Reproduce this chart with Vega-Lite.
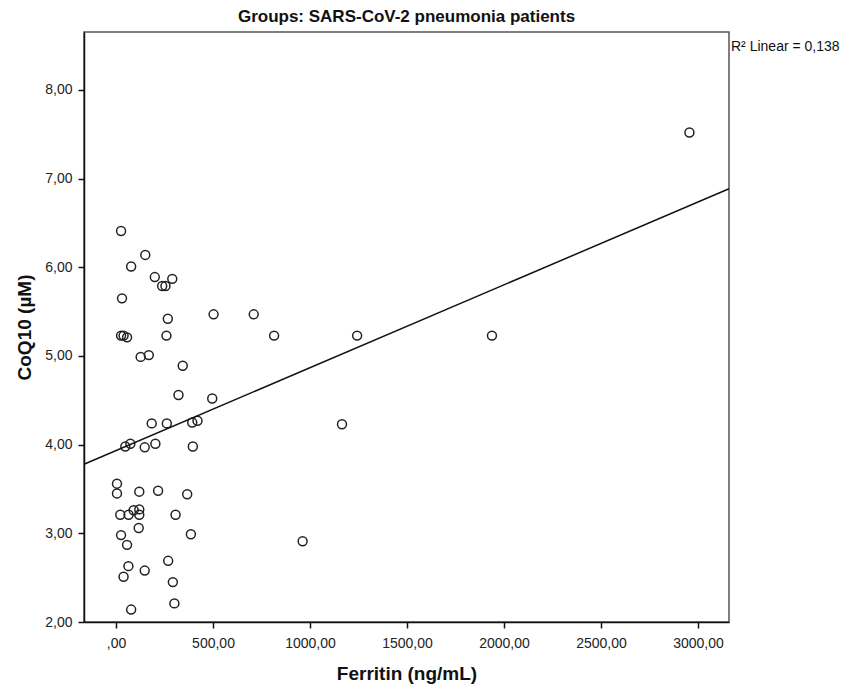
{
  "$schema": "https://vega.github.io/schema/vega-lite/v6.json",
  "width": 645,
  "height": 590,
  "autosize": "none",
  "padding": {"left": 84, "top": 32, "right": 119, "bottom": 66},
  "background": "white",
  "config": {
    "view": {"stroke": "#555555", "strokeWidth": 1.5},
    "axis": {
      "domainColor": "#111111",
      "domainWidth": 1.5,
      "tickColor": "#111111",
      "tickWidth": 1.5,
      "tickSize": 6,
      "grid": false,
      "labelFont": "Liberation Sans",
      "labelFontSize": 14,
      "labelColor": "#222222",
      "titleFont": "Liberation Sans",
      "titleFontWeight": "bold",
      "titleFontSize": 19,
      "titleColor": "#111111"
    }
  },
  "title": {
    "text": "Groups: SARS-CoV-2 pneumonia patients",
    "font": "Liberation Sans",
    "fontSize": 17,
    "fontWeight": "bold",
    "color": "#111111",
    "anchor": "middle",
    "offset": 6
  },
  "data": {
    "values": [
      {"ferritin": 26, "coq10": 6.41},
      {"ferritin": 151, "coq10": 6.14},
      {"ferritin": 78, "coq10": 6.01},
      {"ferritin": 200, "coq10": 5.89},
      {"ferritin": 290, "coq10": 5.87},
      {"ferritin": 238, "coq10": 5.79},
      {"ferritin": 255, "coq10": 5.79},
      {"ferritin": 31, "coq10": 5.65},
      {"ferritin": 267, "coq10": 5.42},
      {"ferritin": 503, "coq10": 5.47},
      {"ferritin": 710, "coq10": 5.47},
      {"ferritin": 815, "coq10": 5.23},
      {"ferritin": 26, "coq10": 5.23},
      {"ferritin": 39, "coq10": 5.23},
      {"ferritin": 57, "coq10": 5.21},
      {"ferritin": 260, "coq10": 5.23},
      {"ferritin": 127, "coq10": 4.99},
      {"ferritin": 169, "coq10": 5.01},
      {"ferritin": 344, "coq10": 4.89},
      {"ferritin": 322, "coq10": 4.56},
      {"ferritin": 496, "coq10": 4.52},
      {"ferritin": 184, "coq10": 4.24},
      {"ferritin": 262, "coq10": 4.24},
      {"ferritin": 393, "coq10": 4.25},
      {"ferritin": 420, "coq10": 4.27},
      {"ferritin": 1165, "coq10": 4.23},
      {"ferritin": 48, "coq10": 3.98},
      {"ferritin": 74, "coq10": 4.01},
      {"ferritin": 148, "coq10": 3.97},
      {"ferritin": 203, "coq10": 4.01},
      {"ferritin": 396, "coq10": 3.98},
      {"ferritin": 5, "coq10": 3.56},
      {"ferritin": 5, "coq10": 3.45},
      {"ferritin": 120, "coq10": 3.47},
      {"ferritin": 217, "coq10": 3.48},
      {"ferritin": 367, "coq10": 3.44},
      {"ferritin": 22, "coq10": 3.21},
      {"ferritin": 65, "coq10": 3.21},
      {"ferritin": 91, "coq10": 3.26},
      {"ferritin": 120, "coq10": 3.27},
      {"ferritin": 120, "coq10": 3.21},
      {"ferritin": 307, "coq10": 3.21},
      {"ferritin": 117, "coq10": 3.06},
      {"ferritin": 26, "coq10": 2.98},
      {"ferritin": 386, "coq10": 2.99},
      {"ferritin": 57, "coq10": 2.87},
      {"ferritin": 962, "coq10": 2.91},
      {"ferritin": 64, "coq10": 2.63},
      {"ferritin": 39, "coq10": 2.51},
      {"ferritin": 148, "coq10": 2.58},
      {"ferritin": 269, "coq10": 2.69},
      {"ferritin": 293, "coq10": 2.45},
      {"ferritin": 301, "coq10": 2.21},
      {"ferritin": 78, "coq10": 2.14},
      {"ferritin": 1243, "coq10": 5.23},
      {"ferritin": 1938, "coq10": 5.23},
      {"ferritin": 2956, "coq10": 7.52}
    ]
  },
  "layer": [
    {
      "mark": {"type": "point", "shape": "circle", "filled": false, "size": 80, "strokeWidth": 1.5, "color": "#222222", "opacity": 1},
      "encoding": {
        "x": {
          "field": "ferritin",
          "type": "quantitative",
          "title": "Ferritin (ng/mL)",
          "scale": {"domain": [-165, 3160], "nice": false, "zero": false},
          "axis": {
            "values": [0, 500, 1000, 1500, 2000, 2500, 3000],
            "labelPadding": 8,
            "titlePadding": 14,
            "labelExpr": "datum.value == 0 ? ',00' : replace(format(datum.value, '.2f'), '.', ',')"
          }
        },
        "y": {
          "field": "coq10",
          "type": "quantitative",
          "title": "CoQ10 (µM)",
          "scale": {"domain": [2, 8.654], "nice": false, "zero": false},
          "axis": {
            "values": [2, 3, 4, 5, 6, 7, 8],
            "labelPadding": 6,
            "titlePadding": 10,
            "labelExpr": "replace(format(datum.value, '.2f'), '.', ',')"
          }
        }
      }
    },
    {
      "transform": [{"regression": "coq10", "on": "ferritin", "extent": [-165, 3160]}],
      "mark": {"type": "line", "color": "#111111", "strokeWidth": 1.5},
      "encoding": {
        "x": {"field": "ferritin", "type": "quantitative"},
        "y": {"field": "coq10", "type": "quantitative"}
      }
    },
    {
      "data": {"values": [{"label": "R² Linear = 0,138"}]},
      "mark": {"type": "text", "align": "left", "baseline": "alphabetic", "dx": 2, "font": "Liberation Sans", "fontSize": 14, "color": "#111111", "clip": false},
      "encoding": {
        "x": {"datum": 3160},
        "y": {"datum": 8.443},
        "text": {"field": "label"}
      }
    }
  ]
}
